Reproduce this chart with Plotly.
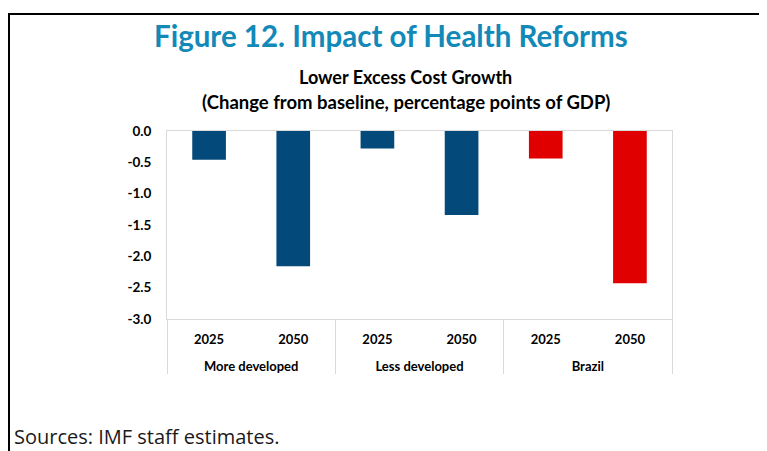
import plotly.graph_objects as go

# data
groups = ["More developed", "More developed", "Less developed", "Less developed", "Brazil", "Brazil"]
years = ["2025", "2050", "2025", "2050", "2025", "2050"]
values = [-0.46, -2.16, -0.28, -1.34, -0.44, -2.43]
bar_colors = ["#034A7A", "#034A7A", "#034A7A", "#034A7A", "#E00000", "#E00000"]
y_tickvals = [0, -0.5, -1, -1.5, -2, -2.5, -3]
y_ticktext = ["0.0", "-0.5", "-1.0", "-1.5", "-2.0", "-2.5", "-3.0"]

# the html page puts the figure 8px in from the window corner
OFF = 8
W, H = 767 - OFF, 451 - OFF
L, T = 167 - OFF, 131 - OFF
R, B = W - (672 - OFF), H - (319 - OFF)
PW, PH = W - L - R, H - T - B


def px(x):
    # window pixel -> paper x
    return (x - OFF - L) / PW


def py(y):
    # window pixel -> paper y
    return 1 - (y - OFF - T) / PH


# empty first line pushes the group names down below the years
group_labels = ["<br>" + g for g in groups]

fig = go.Figure()

fig.add_trace(go.Bar(
    x=[group_labels, years],
    y=values,
    marker=dict(color=bar_colors, line_width=0),
    width=0.4,
    hoverinfo="y"
))

# outer frame (black line on left and top)
fig.add_shape(type="path", xref="paper", yref="paper",
              path=f"M {px(9)} {py(470)} L {px(9)} {py(14)} L {px(790)} {py(14)}",
              line=dict(color="black", width=2))

fig.add_annotation(text="<b>Figure 12. Impact of Health Reforms</b>",
                   xref="paper", yref="paper", x=px(391), y=py(35),
                   xanchor="center", yanchor="middle",
                   showarrow=False, font=dict(family="Lato", size=29.5, color="#1289B7"))
fig.add_annotation(text="<b>Lower Excess Cost Growth</b>",
                   xref="paper", yref="paper", x=px(405), y=py(77),
                   xanchor="center", yanchor="middle",
                   showarrow=False, font=dict(family="Lato", size=18, color="black"))
fig.add_annotation(text="<b>(Change from baseline, percentage points of GDP)</b>",
                   xref="paper", yref="paper", x=px(406), y=py(102),
                   xanchor="center", yanchor="middle",
                   showarrow=False, font=dict(family="Lato", size=18.5, color="black"))
fig.add_annotation(text="Sources: IMF staff estimates.",
                   xref="paper", yref="paper", x=px(13), y=py(436),
                   xanchor="left", yanchor="middle", borderpad=0,
                   showarrow=False, font=dict(family="Open Sans", size=20, color="#1a1a1a"))

fig.update_layout(
    width=W, height=H,
    margin=dict(l=L, r=R, t=T, b=B),
    plot_bgcolor="white", paper_bgcolor="white",
    showlegend=False,
    bargap=0.6,
)
fig.update_xaxes(
    type="multicategory",
    showline=True, linecolor="#D9D9D9", linewidth=1, mirror=True,
    showgrid=False, ticks="",
    ticklabelstandoff=8,
    dividercolor="#D9D9D9", dividerwidth=1,
    tickfont=dict(family="Lato", size=13, color="black", weight="bold"),
)
fig.update_yaxes(
    range=[-3, 0],
    tickvals=y_tickvals, ticktext=y_ticktext,
    showline=True, linecolor="#D9D9D9", linewidth=1, mirror=True,
    showgrid=False, zeroline=False, ticks="",
    ticklabelstandoff=12,
    tickfont=dict(family="Lato", size=13.5, color="black", weight="bold"),
)

fig.write_html("out.html")
